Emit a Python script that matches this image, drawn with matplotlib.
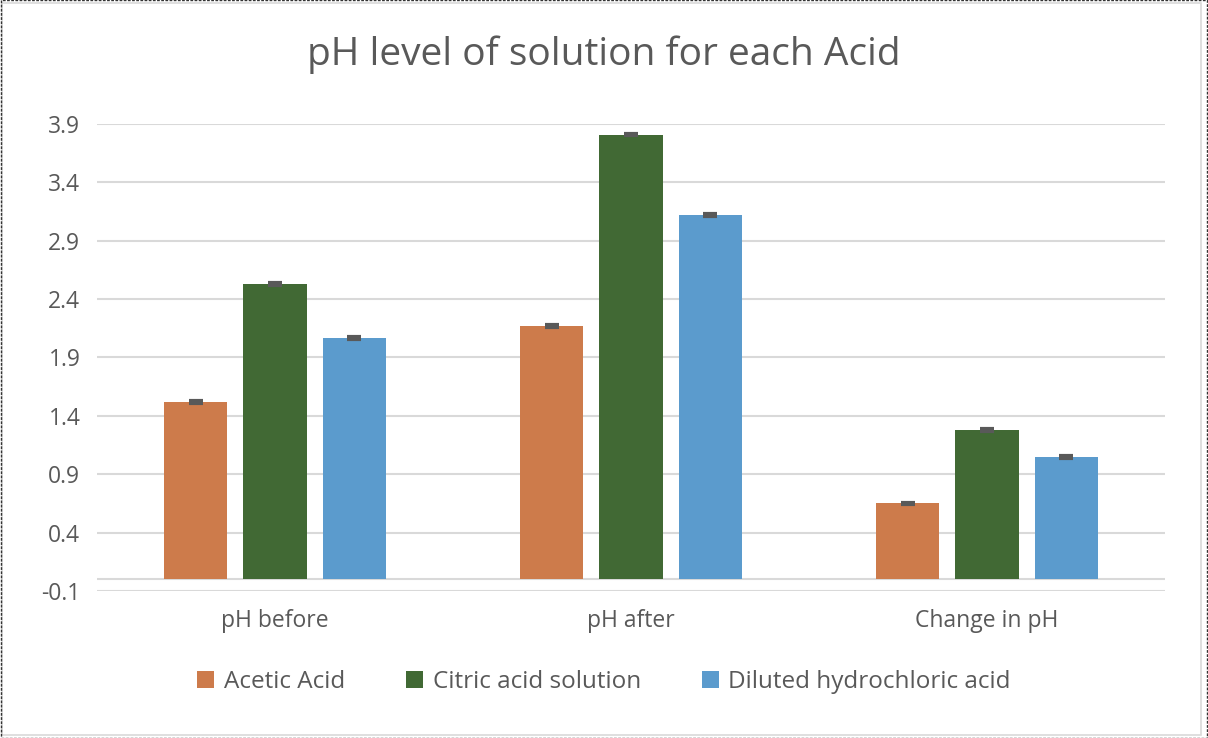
import numpy as np
import matplotlib
matplotlib.use('Agg')
import matplotlib.pyplot as plt
from matplotlib.patches import Rectangle

# данные
categories = ['pH before', 'pH after', 'Change in pH']
series_names = ['Acetic Acid', 'Citric acid solution', 'Diluted hydrochloric acid']
acetic = [1.52, 2.17, 0.65]
citric = [2.53, 3.81, 1.28]
hcl = [2.07, 3.12, 1.05]
errors = [0.008, 0.008, 0.008]
yticks = [-0.1, 0.4, 0.9, 1.4, 1.9, 2.4, 2.9, 3.4, 3.9]

colors = ['#CD7B4B', '#416934', '#5B9BCD']
text_color = '#595959'

plt.rcParams['font.family'] = ['Open Sans', 'DejaVu Sans']

fig = plt.figure(figsize=(12.08, 7.38), dpi=100)
ax = fig.add_axes([97 / 1208, 1 - 591 / 738, 1068 / 1208, 467 / 738])

x = np.arange(len(categories))
width = 0.177
step = 0.222
for i, (vals, name) in enumerate(zip([acetic, citric, hcl], series_names)):
    pos = x + (i - 1) * step
    ax.bar(pos, vals, width, color=colors[i], label=name, zorder=3)
    ax.errorbar(pos, vals, yerr=errors, fmt='none', ecolor='#595959',
                elinewidth=1.5, capsize=5, capthick=3, zorder=4)

ax.set_xlim(-0.5, 2.5)
ax.set_ylim(-0.1, 3.9)
ax.set_yticks(yticks)
ax.set_yticklabels([f'{t:.1f}' for t in yticks])
ax.set_xticks(x)
ax.set_xticklabels(categories)
ax.tick_params(axis='both', length=0, colors=text_color, labelsize=16.5)
ax.tick_params(axis='x', pad=13)
ax.tick_params(axis='y', pad=12)
ax.grid(axis='y', color='#D9D9D9', linewidth=1.5, zorder=0)
ax.axhline(0, color='#D9D9D9', linewidth=1.5, zorder=1)
for s in ax.spines.values():
    s.set_visible(False)

fig.suptitle('pH level of solution for each Acid', y=1 - 55 / 738, va='center',
             fontsize=28, color=text_color)

fig.legend(loc='center', bbox_to_anchor=(0.5, 1 - 682 / 738), ncol=3,
           frameon=False, fontsize=17.5, labelcolor=text_color,
           handlelength=0.7, handleheight=0.7, handletextpad=0.4, columnspacing=2.5)

# рамка
fig.patches.append(Rectangle((0.002, 0.004), 0.992, 0.992, transform=fig.transFigure,
                             fill=False, edgecolor='#D9D9D9', linewidth=1.2))
fig.patches.append(Rectangle((0.0005, 0.0005), 0.999, 0.999, transform=fig.transFigure,
                             fill=False, edgecolor='#333333', linewidth=1, linestyle=(0, (2, 1))))

fig.savefig('out.png', dpi=100)
